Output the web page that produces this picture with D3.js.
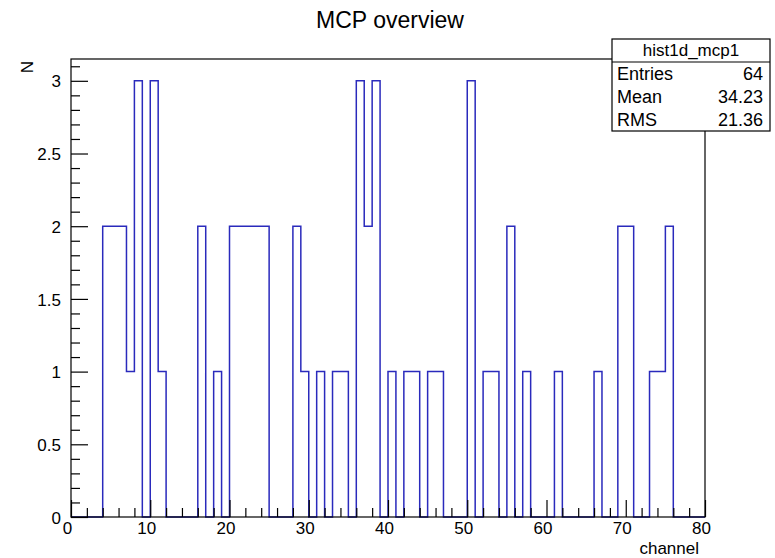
<!DOCTYPE html>
<html>
<head>
<meta charset="utf-8">
<script src="https://cdn.jsdelivr.net/npm/d3@7/dist/d3.min.js"></script>
<style>
  html, body { margin: 0; padding: 0; background: #fff; }
  svg { display: block; }
  text { font-family: "Liberation Sans", Arial, Helvetica, sans-serif; fill: #000; }
</style>
</head>
<body>
<svg id="chart" width="775" height="558"></svg>
<script>
// Histogram definition: 80 bins of width 1 over channel 0..80
const binLow = 0;
const binHigh = 80;
const counts = [
  0, 0, 0, 0, 2, 2, 2, 1, 3, 0,
  3, 1, 0, 0, 0, 0, 2, 0, 1, 0,
  2, 2, 2, 2, 2, 0, 0, 0, 2, 1,
  0, 1, 0, 1, 1, 0, 3, 2, 3, 0,
  1, 0, 1, 1, 0, 1, 1, 0, 0, 0,
  3, 0, 1, 1, 0, 2, 0, 1, 0, 0,
  0, 1, 0, 0, 0, 0, 1, 0, 0, 2,
  2, 0, 0, 1, 1, 2, 0, 0, 0, 0
];

// Axis tick values and labels
const xMajorTicks = [0, 10, 20, 30, 40, 50, 60, 70, 80];
const yMajorTicks = [0, 0.5, 1, 1.5, 2, 2.5, 3];
const yTickLabels = ["0", "0.5", "1", "1.5", "2", "2.5", "3"];

// Statistics box contents
const statsTitle = "hist1d_mcp1";
const statNames = ["Entries", "Mean", "RMS"];
const statValues = ["64", "34.23", "21.36"];

const titleText = "MCP overview";
const xTitle = "channel";
const yTitle = "N";

const svg = d3.select("#chart");
const W = 775, H = 558;
const margin = { left: 71, right: 70, top: 59, bottom: 41 };
const x0 = margin.left, x1 = W - margin.right;
const y0 = H - margin.bottom, y1 = margin.top;

const yMax = d3.max(counts) * 1.05;
const x = d3.scaleLinear().domain([binLow, binHigh]).range([x0, x1]);
const y = d3.scaleLinear().domain([0, yMax]).range([y0, y1]);

const binWidth = (binHigh - binLow) / counts.length;

// Histogram outline
const pts = counts.map((c, i) => [binLow + i * binWidth, c]);
pts.push([binHigh, 0]);
const line = d3.line()
  .x(d => x(d[0]))
  .y(d => y(d[1]))
  .curve(d3.curveStepAfter);

svg.append("path")
  .attr("d", line(pts))
  .attr("fill", "none")
  .attr("stroke", "#2a2abc")
  .attr("stroke-width", 1.5);

// Frame
const frame = svg.append("g").attr("stroke", "#000").attr("stroke-width", 1.2).attr("fill", "none");
frame.append("rect")
  .attr("x", x0).attr("y", y1)
  .attr("width", x1 - x0).attr("height", y0 - y1);

// X axis ticks (inside, pointing up)
const xMinorTicks = d3.range(binLow, binHigh + 0.001, 2);
const xAxis = d3.axisBottom(x)
  .tickValues(xMinorTicks)
  .tickSizeInner(0)
  .tickSizeOuter(0)
  .tickFormat("");
const gx = svg.append("g").attr("transform", `translate(0,${y0})`).call(xAxis);
gx.select(".domain").remove();
gx.selectAll(".tick line")
  .attr("y2", d => xMajorTicks.includes(d) ? -17 : -9)
  .attr("stroke", "#000")
  .attr("stroke-width", 1.2);
gx.selectAll(".tick").filter(d => xMajorTicks.includes(d))
  .append("text")
  .attr("x", -4)
  .attr("y", 17)
  .attr("dy", "0")
  .attr("text-anchor", "middle")
  .attr("font-size", 17)
  .text(d => d3.format("d")(d));

// Y axis ticks (inside, pointing right)
const yMinorTicks = d3.range(0, yMax, 0.1).map(v => Math.round(v * 10) / 10);
const yAxis = d3.axisLeft(y)
  .tickValues(yMinorTicks)
  .tickSizeInner(0)
  .tickSizeOuter(0)
  .tickFormat("");
const gy = svg.append("g").attr("transform", `translate(${x0},0)`).call(yAxis);
gy.select(".domain").remove();
const isYMajor = d => yMajorTicks.some(t => Math.abs(t - d) < 1e-6);
gy.selectAll(".tick line")
  .attr("x2", d => isYMajor(d) ? 17 : 9)
  .attr("stroke", "#000")
  .attr("stroke-width", 1.2);
gy.selectAll(".tick").filter(isYMajor)
  .append("text")
  .attr("x", -10)
  .attr("dy", "0.36em")
  .attr("text-anchor", "end")
  .attr("font-size", 17)
  .text(d => yTickLabels[yMajorTicks.findIndex(t => Math.abs(t - d) < 1e-6)]);

// Title
svg.append("text")
  .attr("x", (x0 + x1) / 2 + 2)
  .attr("y", 28)
  .attr("text-anchor", "middle")
  .attr("font-size", 23)
  .text(titleText);

// Axis titles
svg.append("text")
  .attr("x", x1 - 6)
  .attr("y", 554)
  .attr("text-anchor", "end")
  .attr("font-size", 17)
  .text(xTitle);

svg.append("text")
  .attr("transform", `translate(33,${y1 + 2}) rotate(-90)`)
  .attr("text-anchor", "end")
  .attr("font-size", 17)
  .text(yTitle);

// Statistics box
const box = { left: 612, right: 770, top: 39, header: 62, bottom: 131 };
const sb = svg.append("g");
sb.append("rect")
  .attr("x", box.left).attr("y", box.top)
  .attr("width", box.right - box.left).attr("height", box.bottom - box.top)
  .attr("fill", "#fff").attr("stroke", "#000").attr("stroke-width", 1.2);
sb.append("line")
  .attr("x1", box.left).attr("x2", box.right)
  .attr("y1", box.header).attr("y2", box.header)
  .attr("stroke", "#000").attr("stroke-width", 1.2);
sb.append("text")
  .attr("x", (box.left + box.right) / 2)
  .attr("y", box.top + 17)
  .attr("text-anchor", "middle")
  .attr("font-size", 17)
  .text(statsTitle);
const rowH = (box.bottom - box.header) / statNames.length;
statNames.forEach((n, i) => {
  const cy = box.header + rowH * (i + 0.5);
  sb.append("text")
    .attr("x", box.left + 5).attr("y", cy).attr("dy", "0.36em")
    .attr("font-size", 18)
    .text(n);
  sb.append("text")
    .attr("x", box.right - 7).attr("y", cy).attr("dy", "0.36em")
    .attr("text-anchor", "end")
    .attr("font-size", 18)
    .text(statValues[i]);
});
</script>
</body>
</html>
